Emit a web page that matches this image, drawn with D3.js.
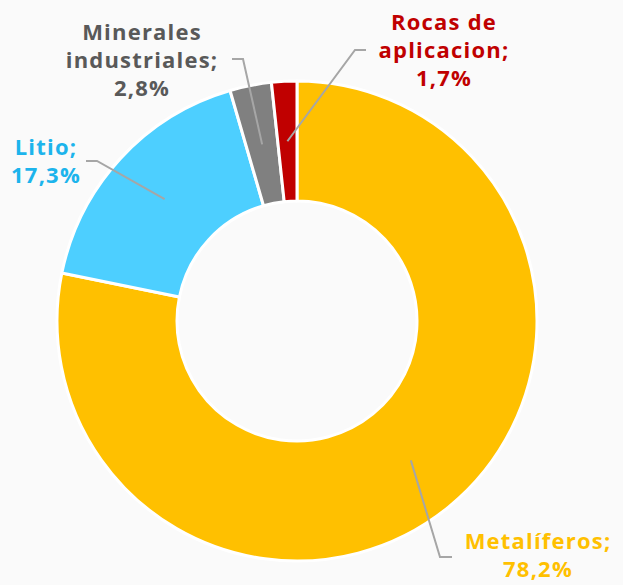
<!DOCTYPE html>
<html>
<head>
<meta charset="utf-8">
<script src="https://cdn.jsdelivr.net/npm/d3@7"></script>
<style>
  html, body { margin: 0; padding: 0; background: #fafafa; }
  svg { display: block; }
</style>
</head>
<body>
<svg id="chart" width="623" height="585"></svg>
<script>
// ---- data ----
const categories = ["Metalíferos", "Litio", "Minerales industriales", "Rocas de aplicacion"];
const values = [78.2, 17.3, 2.8, 1.7];
const labelLines = [
  ["Metalíferos;", "78,2%"],
  ["Litio;", "17,3%"],
  ["Minerales", "industriales;", "2,8%"],
  ["Rocas de", "aplicacion;", "1,7%"]
];
const sliceColors = ["#FFC000", "#4DCFFF", "#808080", "#C00000"];
const labelColors = ["#FFC000", "#1CB4EC", "#595959", "#C00000"];

// ---- layout ----
const W = 623, H = 585;
const cx = 297, cy = 321;
const outerR = 240, innerR = 120;
const labelLayout = [
  { elbow: [440, 557], end: [452, 557], tx: 538, ty: 549 },
  { elbow: [97, 161], end: [86, 161], tx: 46, ty: 155 },
  { elbow: [243, 59], end: [232, 59], tx: 142, ty: 40 },
  { elbow: [355, 50], end: [366, 50], tx: 444, ty: 30 }
];
const lineH = 28;

const svg = d3.select("#chart");
svg.append("rect").attr("width", W).attr("height", H).attr("fill", "#fafafa");

const g = svg.append("g").attr("transform", `translate(${cx},${cy})`);

const pie = d3.pie().sort(null).value(d => d.value);
const data = categories.map((c, i) => ({ name: c, value: values[i], i }));
const arcs = pie(data);

const arc = d3.arc().innerRadius(innerR).outerRadius(outerR);
const midArc = d3.arc().innerRadius(180).outerRadius(180);

g.selectAll("path.slice")
  .data(arcs)
  .join("path")
  .attr("class", "slice")
  .attr("d", arc)
  .attr("fill", d => sliceColors[d.data.i])
  .attr("stroke", "#ffffff")
  .attr("stroke-width", 3)
  .attr("stroke-linejoin", "round");

// leader lines
svg.selectAll("polyline.leader")
  .data(arcs)
  .join("polyline")
  .attr("class", "leader")
  .attr("points", d => {
    const c = midArc.centroid(d);
    const L = labelLayout[d.data.i];
    return [[cx + c[0], cy + c[1]], L.elbow, L.end].map(p => p.join(",")).join(" ");
  })
  .attr("fill", "none")
  .attr("stroke", "#A6A6A6")
  .attr("stroke-width", 2);

// labels
const labels = svg.selectAll("text.lbl")
  .data(arcs)
  .join("text")
  .attr("class", "lbl")
  .attr("text-anchor", "middle")
  .attr("font-family", "'Open Sans', 'Noto Sans', sans-serif")
  .attr("font-weight", 700)
  .attr("font-size", 22)
  .attr("letter-spacing", 1.2)
  .attr("fill", d => labelColors[d.data.i]);

labels.each(function(d) {
  const L = labelLayout[d.data.i];
  d3.select(this).selectAll("tspan")
    .data(labelLines[d.data.i])
    .join("tspan")
    .attr("x", L.tx)
    .attr("y", (t, k) => L.ty + k * lineH)
    .text(t => t);
});
</script>
</body>
</html>
